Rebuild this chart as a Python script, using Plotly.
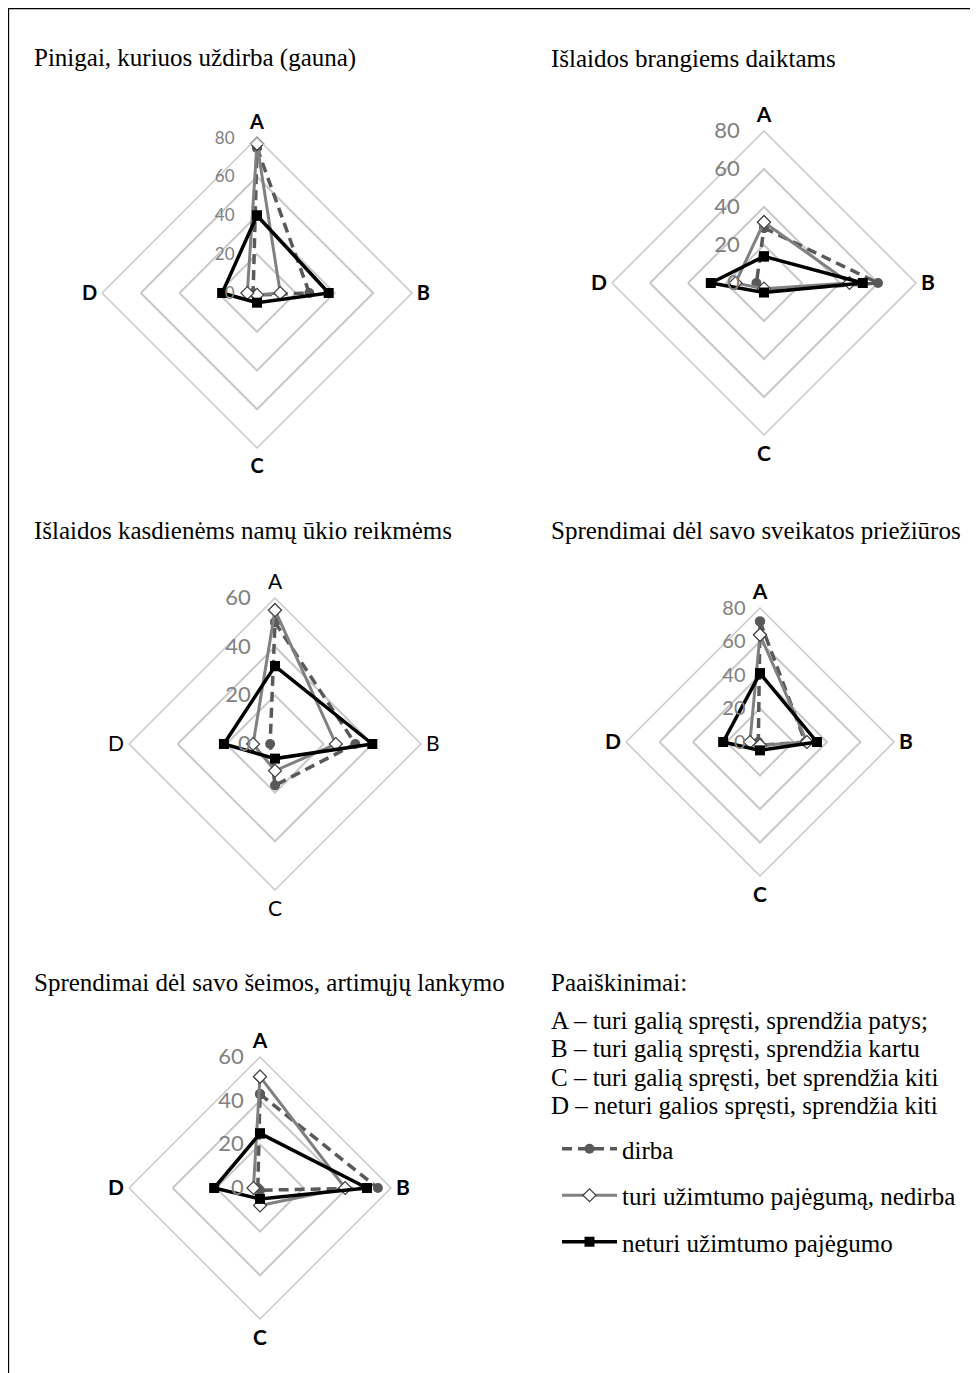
import plotly.graph_objects as go

W, H = 978, 1373
OFF = 8  # page body margin in the browser


def fx(px):
    return (px - OFF) / W


def fy(py):
    return 1 - (py - OFF) / H


categories = ["A", "B", "C", "D"]

titles = [
    "Pinigai, kuriuos uždirba (gauna)",
    "Išlaidos brangiems daiktams",
    "Išlaidos kasdienėms namų ūkio reikmėms",
    "Sprendimai dėl savo sveikatos priežiūros",
    "Sprendimai dėl savo šeimos, artimųjų lankymo",
]

series_names = ["dirba", "turi užimtumo pajėgumą, nedirba", "neturi užimtumo pajėgumo"]

# values per chart: A, B, C, D
dirba = [
    [75, 27, 1, 2],
    [29, 60, 4, 4],
    [50, 33, 17, 2],
    [72, 27, 2, 1],
    [43, 54, 1, 1],
]
turi = [
    [77, 12, 1, 5],
    [32, 45, 3, 15],
    [55, 25, 11, 9],
    [64, 28, 2, 6],
    [51, 39, 8, 3],
]
neturi = [
    [40, 37, 5, 18],
    [14, 52, 5, 28],
    [32, 40, 6, 21],
    [41, 34, 5, 22],
    [25, 49, 5, 21],
]
radial_max = [80, 80, 60, 80, 60]

legend_lines = [
    "Paaiškinimai:",
    "A – turi galią spręsti, sprendžia patys;",
    "B – turi galią spręsti, sprendžia kartu",
    "C – turi galią spręsti, bet sprendžia kiti",
    "D – neturi galios spręsti, sprendžia kiti",
]

# layout geometry (pixels): center x, center y, radius
geom = [
    (257, 293, 155),
    (764, 283, 152),
    (275, 744, 146),
    (760, 742, 134),
    (260, 1188, 131),
]
tick_font_sizes = [17, 22, 22, 20, 22]
ang_font_sizes = [20, 21, 21, 21, 21]
ang_bold = [True, True, False, True, True]
tick_len = [16, 16, 16, 7, 8]
title_pos = [(32, 58), (549, 58), (32, 531), (549, 531), (32, 982)]

styles = [
    dict(line=dict(color="#595959", width=3.5, dash="10px,6px"),
         marker=dict(symbol="circle", size=10, color="#595959")),
    dict(line=dict(color="#808080", width=3),
         marker=dict(symbol="diamond", size=10, color="white",
                     line=dict(color="#404040", width=1.2))),
    dict(line=dict(color="black", width=3.5),
         marker=dict(symbol="square", size=10, color="black")),
]

fig = go.Figure()
data_sets = [dirba, turi, neturi]

for i in range(5):
    pname = "polar" if i == 0 else f"polar{i+1}"
    for s in range(3):
        vals = data_sets[s][i]
        fig.add_trace(go.Scatterpolar(
            r=vals + [vals[0]],
            theta=categories + [categories[0]],
            mode="lines+markers",
            name=series_names[s],
            legendgroup=series_names[s],
            showlegend=(i == 0),
            subplot=pname,
            line=styles[s]["line"],
            marker=styles[s]["marker"],
        ))
    cx, cy, r = geom[i]
    fig.update_layout(**{pname: dict(
        domain=dict(x=[fx(cx - r), fx(cx + r)],
                    y=[fy(cy + r), fy(cy - r)]),
        gridshape="linear",
        bgcolor="white",
        angularaxis=dict(
            rotation=90, direction="clockwise",
            categoryorder="array", categoryarray=categories,
            showgrid=False, showline=True, linecolor="#c8c8c8", linewidth=1.5,
            ticks="",
            tickfont=dict(family="Lato", size=ang_font_sizes[i], color="black",
                          weight="bold" if ang_bold[i] else "normal"),
        ),
        radialaxis=dict(
            range=[0, radial_max[i]], dtick=20, angle=90, tickangle=90,
            side="counterclockwise",
            showline=False, showgrid=True, gridcolor="#c8c8c8", gridwidth=1.5,
            ticks="outside", ticklen=tick_len[i], tickcolor="rgba(0,0,0,0)",
            tickfont=dict(family="Lato", size=tick_font_sizes[i], color="#808080"),
        ),
    )})

annotations = []
for i, t in enumerate(titles):
    x, y = title_pos[i]
    annotations.append(dict(text=t, x=fx(x), y=fy(y), xref="paper", yref="paper",
                            xanchor="left", yanchor="middle", showarrow=False,
                            font=dict(family="Liberation Serif", size=25, color="black")))
leg_y = [982, 1020, 1048, 1077, 1105]
for t, y in zip(legend_lines, leg_y):
    annotations.append(dict(text=t, x=fx(549), y=fy(y), xref="paper", yref="paper",
                            xanchor="left", yanchor="middle", showarrow=False,
                            font=dict(family="Liberation Serif", size=25, color="black")))

fig.update_layout(
    width=W, height=H,
    margin=dict(l=0, r=0, t=0, b=0),
    paper_bgcolor="white",
    annotations=annotations,
    showlegend=True,
    legend=dict(x=fx(557), y=fy(1126), xanchor="left", yanchor="top",
                font=dict(family="Liberation Serif", size=25, color="black"),
                itemwidth=55,
                tracegroupgap=11, bgcolor="rgba(0,0,0,0)"),
    shapes=[dict(type="rect", xref="paper", yref="paper",
                 x0=fx(8.5), x1=1.05, y0=-0.05, y1=fy(8.5),
                 line=dict(color="black", width=1.3))],
)

fig.write_html("out.html")
